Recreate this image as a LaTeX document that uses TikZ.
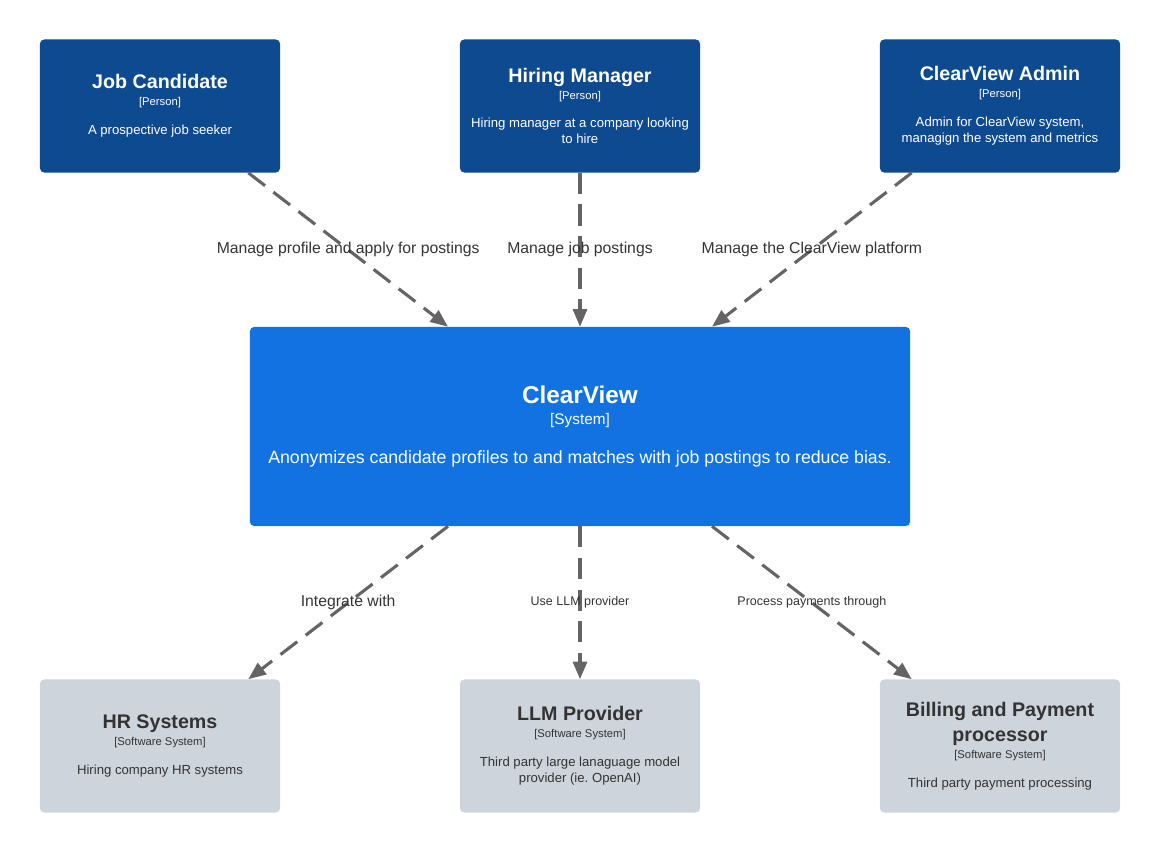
\documentclass[tikz,border=0pt]{standalone}
\usepackage{fontspec}
\setmainfont{Liberation Sans}
\usepackage{tikz}
\usetikzlibrary{positioning,arrows.meta,calc}
\frenchspacing

\definecolor{personblue}{HTML}{0E4A8F}
\definecolor{systemblue}{HTML}{1372E2}
\definecolor{extgray}{HTML}{CED4DC}
\definecolor{linegray}{HTML}{646464}
\definecolor{textdark}{HTML}{333333}

\newcommand{\boxtitle}{\fontsize{14}{16}\bfseries\selectfont}
\newcommand{\boxtag}{\fontsize{8}{9.6}\selectfont}
\newcommand{\bigtitle}{\fontsize{17.3}{20}\bfseries\selectfont}
\newcommand{\bigtag}{\fontsize{10.9}{13}\selectfont}

\begin{document}
\begin{tikzpicture}[
    x=0.025cm, y=-0.025cm,
    person/.style={rectangle, fill=personblue, text=white, minimum width=6cm, minimum height=3.325cm, rounded corners=3pt, align=center, inner sep=0pt, font=\fontsize{9.35}{11.4}\selectfont},
    extsys/.style={person, fill=extgray, text=textdark},
    mainsys/.style={rectangle, fill=systemblue, text=white, minimum width=16.5cm, minimum height=4.975cm, rounded corners=3pt, align=center, inner sep=0pt, font=\fontsize{12.6}{15}\selectfont},
    rel/.style={draw=linegray, line width=2.2pt, dash pattern=on 15pt off 7.5pt, -{Triangle[length=12.5pt, width=10pt]}},
    rellabel/.style={text=textdark, font=\fontsize{11.2}{13}\selectfont},
    smalllabel/.style={text=textdark, font=\fontsize{8.9}{10.5}\selectfont}
]
    \useasboundingbox (0,0) rectangle (1160,854);

    % People
    \node[person] (candidate) at (160,106) {{\boxtitle Job Candidate}\\[0.6pt]{\boxtag [Person]}\\[9pt]A prospective job seeker};
    \node[person] (manager) at (580,106) {{\boxtitle Hiring Manager}\\[0.6pt]{\boxtag [Person]}\\[9pt]Hiring manager at a company looking\\to hire};
    \node[person] (admin) at (1000,106) {{\boxtitle ClearView Admin}\\[0.6pt]{\boxtag [Person]}\\[9pt]Admin for ClearView system,\\managign the system and metrics};

    % System
    \node[mainsys] (clearview) at (580,426.5) {{\bigtitle ClearView}\\[0pt]{\bigtag [System]}\\[13pt]Anonymizes candidate profiles to and matches with job postings to reduce bias.};

    % External systems
    \node[extsys] (hr) at (160,746) {{\boxtitle HR Systems}\\[0.6pt]{\boxtag [Software System]}\\[9pt]Hiring company HR systems};
    \node[extsys] (llm) at (580,746) {{\boxtitle LLM Provider}\\[0.6pt]{\boxtag [Software System]}\\[9pt]Third party large lanaguage model\\provider (ie. OpenAI)};
    \node[extsys] (billing) at (1000,746) {{\boxtitle Billing and Payment}\\[6.4pt]{\boxtitle processor}\\[0.6pt]{\boxtag [Software System]}\\[9pt]Third party payment processing};

    % Relations
    \draw[rel] ([xshift=-0.8cm]candidate.south east) -- ([xshift=-3.3cm]clearview.north) node[midway, rellabel] {Manage profile and apply for postings};
    \draw[rel] (manager.south) -- (clearview.north) node[midway, rellabel] {Manage job postings};
    \draw[rel] ([xshift=0.8cm]admin.south west) -- ([xshift=3.3cm]clearview.north) node[midway, rellabel] {Manage the ClearView platform};
    \draw[rel] ([xshift=-3.3cm]clearview.south) -- ([xshift=-0.8cm]hr.north east) node[midway, rellabel] {Integrate with};
    \draw[rel] (clearview.south) -- (llm.north) node[midway, smalllabel] {Use LLM provider};
    \draw[rel] ([xshift=3.3cm]clearview.south) -- ([xshift=0.8cm]billing.north west) node[midway, smalllabel] {Process payments through};
\end{tikzpicture}
\end{document}
